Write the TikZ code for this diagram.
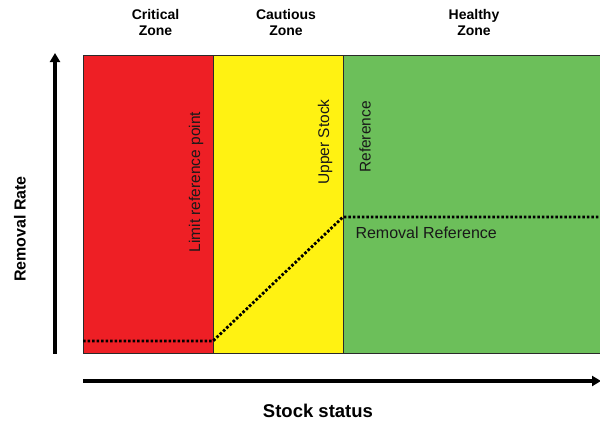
\documentclass[tikz,border=0pt]{standalone}
\usepackage{fontspec}
\setmainfont{Liberation Sans}
\usetikzlibrary{arrows.meta}
\definecolor{zonered}{HTML}{EE1F25}
\definecolor{zoneyellow}{HTML}{FFF212}
\definecolor{zonegreen}{HTML}{6CBF5A}
\definecolor{zoneedge}{HTML}{2A2A2A}
\tikzset{
  zone/.style={draw=zoneedge, line width=0.9pt},
  zonehead/.style={font=\fontsize{14}{16}\selectfont\bfseries, align=center},
  marklabel/.style={font=\fontsize{15.5}{17}\selectfont, rotate=90, text=black!90},
  axisline/.style={line width=3.4pt, -{Triangle[length=9pt,width=10pt]}},
  axislabel/.style={font=\fontsize{16}{18}\selectfont\bfseries},
  refline/.style={line width=2.8pt, dash pattern=on 2.6pt off 1.9pt}
}
\begin{document}
\begin{tikzpicture}[x=1pt,y=-1pt]
\useasboundingbox (0,0) rectangle (600,421);

% zone rectangles
\filldraw[zone, fill=zonered]    (83,55)  rectangle (213,353.5);
\filldraw[zone, fill=zoneyellow] (213,55) rectangle (343,353.5);
\filldraw[zone, fill=zonegreen]  (343,55) rectangle (602,353.5);

% zone headings
\node[zonehead] (hcrit) at (155.5,22) {Critical\\Zone};
\node[zonehead] (hcaut) at (286,22)   {Cautious\\Zone};
\node[zonehead] (hheal) at (474,22)   {Healthy\\Zone};

% reference point labels
\node[marklabel] (lrp) at (196,182) {Limit reference point};
\node[marklabel] (usr) at (325,142) {Upper Stock};
\node[marklabel] (ref) at (365,137) {Reference};
\node[font=\fontsize{16}{18}\selectfont, text=black!90, anchor=west] (rr) at (352,233) {Removal Reference};

% removal rate control rule
\coordinate (r0) at (83,341);
\coordinate (r1) at (213,341);
\coordinate (r2) at (343,217);
\coordinate (r3) at (602,217);
\draw[refline] (r0) -- (r1) -- (r2) -- (r3);

% axes
\coordinate (yb) at (55,353.5);
\coordinate (yt) at (55,53);
\coordinate (xl) at (83,381);
\coordinate (xr) at (601,381);
\draw[axisline] (yb) -- (yt);
\draw[axisline] (xl) -- (xr);

\node[axislabel, rotate=90] (ylab) at (20,229) {Removal Rate};
\node[axislabel, font=\fontsize{18.5}{20}\selectfont\bfseries] (xlab) at (318,411) {Stock status};
\end{tikzpicture}
\end{document}
